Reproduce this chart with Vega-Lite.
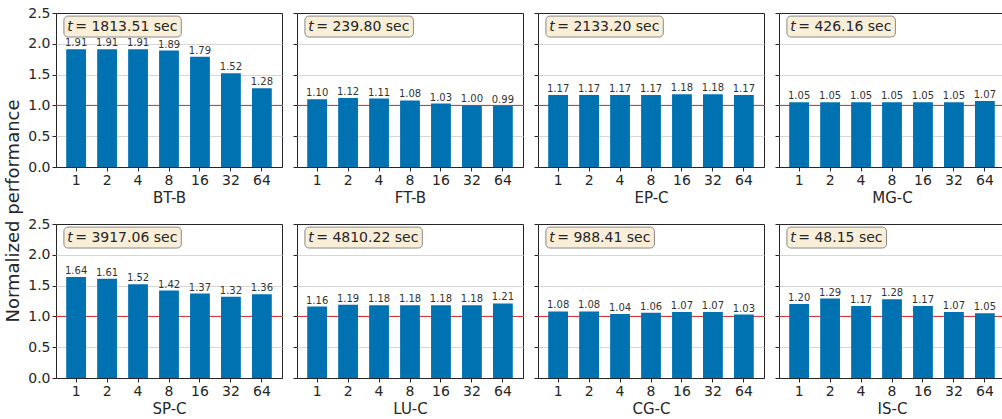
{
"$schema": "https://vega.github.io/schema/vega-lite/v6.json",
"padding": {"left": 5, "top": 5, "right": 1, "bottom": 1},
"background": "white",
"datasets": {
"perf": [
{"b":"BT-B","p":1,"v":1.91},{"b":"BT-B","p":2,"v":1.91},{"b":"BT-B","p":4,"v":1.91},{"b":"BT-B","p":8,"v":1.89},{"b":"BT-B","p":16,"v":1.79},{"b":"BT-B","p":32,"v":1.52},{"b":"BT-B","p":64,"v":1.28},
{"b":"FT-B","p":1,"v":1.10},{"b":"FT-B","p":2,"v":1.12},{"b":"FT-B","p":4,"v":1.11},{"b":"FT-B","p":8,"v":1.08},{"b":"FT-B","p":16,"v":1.03},{"b":"FT-B","p":32,"v":1.00},{"b":"FT-B","p":64,"v":0.99},
{"b":"EP-C","p":1,"v":1.17},{"b":"EP-C","p":2,"v":1.17},{"b":"EP-C","p":4,"v":1.17},{"b":"EP-C","p":8,"v":1.17},{"b":"EP-C","p":16,"v":1.18},{"b":"EP-C","p":32,"v":1.18},{"b":"EP-C","p":64,"v":1.17},
{"b":"MG-C","p":1,"v":1.05},{"b":"MG-C","p":2,"v":1.05},{"b":"MG-C","p":4,"v":1.05},{"b":"MG-C","p":8,"v":1.05},{"b":"MG-C","p":16,"v":1.05},{"b":"MG-C","p":32,"v":1.05},{"b":"MG-C","p":64,"v":1.07},
{"b":"SP-C","p":1,"v":1.64},{"b":"SP-C","p":2,"v":1.61},{"b":"SP-C","p":4,"v":1.52},{"b":"SP-C","p":8,"v":1.42},{"b":"SP-C","p":16,"v":1.37},{"b":"SP-C","p":32,"v":1.32},{"b":"SP-C","p":64,"v":1.36},
{"b":"LU-C","p":1,"v":1.16},{"b":"LU-C","p":2,"v":1.19},{"b":"LU-C","p":4,"v":1.18},{"b":"LU-C","p":8,"v":1.18},{"b":"LU-C","p":16,"v":1.18},{"b":"LU-C","p":32,"v":1.18},{"b":"LU-C","p":64,"v":1.21},
{"b":"CG-C","p":1,"v":1.08},{"b":"CG-C","p":2,"v":1.08},{"b":"CG-C","p":4,"v":1.04},{"b":"CG-C","p":8,"v":1.06},{"b":"CG-C","p":16,"v":1.07},{"b":"CG-C","p":32,"v":1.07},{"b":"CG-C","p":64,"v":1.03},
{"b":"IS-C","p":1,"v":1.20},{"b":"IS-C","p":2,"v":1.29},{"b":"IS-C","p":4,"v":1.17},{"b":"IS-C","p":8,"v":1.28},{"b":"IS-C","p":16,"v":1.17},{"b":"IS-C","p":32,"v":1.07},{"b":"IS-C","p":64,"v":1.05}
],
"times": [
{"b":"BT-B","t":1813.51},{"b":"FT-B","t":239.80},{"b":"EP-C","t":2133.20},{"b":"MG-C","t":426.16},
{"b":"SP-C","t":3917.06},{"b":"LU-C","t":4810.22},{"b":"CG-C","t":988.41},{"b":"IS-C","t":48.15}
]
},
"title": {"text": "Normalized performance", "orient": "left", "anchor": "middle", "fontSize": 18, "fontWeight": "normal", "font": "DejaVu Sans", "color": "#262626", "offset": 4},
"columns": 4,
"spacing": {"row": 10, "column": 9},
"concat": [
{"width":226,"height":154,"resolve":{"scale":{"x":"independent"}},"layer":[
{"data":{"name":"times"},"transform":[{"filter":"datum.b==='BT-B'"}],"mark":{"type":"rule","color":"#d62728","strokeWidth":1},"encoding":{"y":{"datum":1,"type":"quantitative"}}},
{"data":{"name":"perf"},"transform":[{"filter":"datum.b==='BT-B'"}],"encoding":{"x":{"field":"p","type":"ordinal","scale":{"paddingInner":0.36,"paddingOuter":0.33},"axis":{"title":"BT-B"}},"y":{"field":"v","type":"quantitative","scale":{"domain":[0,2.5],"nice":false},"axis":{"title":null,"labels":true,"gridColor":{"condition":{"test":"datum.value<=0||datum.value>=2.5","value":"transparent"},"value":"#d6d6d6"}}}},"layer":[{"mark":{"type":"bar","color":"#0072b2"}},{"mark":{"type":"text","baseline":"bottom","dy":-1,"fontSize":10,"color":"#333333"},"encoding":{"text":{"field":"v","format":".2f"}}}]},
{"data":{"name":"times"},"transform":[{"filter":"datum.b==='BT-B'"},{"calculate":"format(datum.t,'.2f')","as":"s"},{"calculate":"'= '+datum.s+' sec'","as":"label"},{"calculate":"0.035+(64+8.9*(length(datum.s)-1))/226","as":"bx2"}],"layer":[
{"mark":{"type":"rect","fill":"#f9eed8","stroke":"#8a8a8a","strokeWidth":1,"cornerRadius":4},"encoding":{"x":{"field":"bx2","type":"quantitative","scale":{"domain":[0,1],"nice":false,"zero":false},"axis":null},"x2":{"datum":0.035},"y":{"datum":2.45,"type":"quantitative"},"y2":{"datum":2.11}}},
{"mark":{"type":"text","align":"left","baseline":"middle","fontSize":14,"fontStyle":"italic","color":"#262626"},"encoding":{"x":{"datum":0.05,"type":"quantitative"},"y":{"datum":2.28,"type":"quantitative"},"text":{"value":"t"}}},
{"mark":{"type":"text","align":"left","baseline":"middle","fontSize":14,"color":"#262626"},"encoding":{"x":{"datum":0.085,"type":"quantitative"},"y":{"datum":2.28,"type":"quantitative"},"text":{"field":"label"}}}]}]},
{"width":226,"height":154,"resolve":{"scale":{"x":"independent"}},"layer":[
{"data":{"name":"times"},"transform":[{"filter":"datum.b==='FT-B'"}],"mark":{"type":"rule","color":"#d62728","strokeWidth":1},"encoding":{"y":{"datum":1,"type":"quantitative"}}},
{"data":{"name":"perf"},"transform":[{"filter":"datum.b==='FT-B'"}],"encoding":{"x":{"field":"p","type":"ordinal","scale":{"paddingInner":0.36,"paddingOuter":0.33},"axis":{"title":"FT-B"}},"y":{"field":"v","type":"quantitative","scale":{"domain":[0,2.5],"nice":false},"axis":{"title":null,"labels":false,"gridColor":{"condition":{"test":"datum.value<=0||datum.value>=2.5","value":"transparent"},"value":"#d6d6d6"}}}},"layer":[{"mark":{"type":"bar","color":"#0072b2"}},{"mark":{"type":"text","baseline":"bottom","dy":-1,"fontSize":10,"color":"#333333"},"encoding":{"text":{"field":"v","format":".2f"}}}]},
{"data":{"name":"times"},"transform":[{"filter":"datum.b==='FT-B'"},{"calculate":"format(datum.t,'.2f')","as":"s"},{"calculate":"'= '+datum.s+' sec'","as":"label"},{"calculate":"0.035+(64+8.9*(length(datum.s)-1))/226","as":"bx2"}],"layer":[
{"mark":{"type":"rect","fill":"#f9eed8","stroke":"#8a8a8a","strokeWidth":1,"cornerRadius":4},"encoding":{"x":{"field":"bx2","type":"quantitative","scale":{"domain":[0,1],"nice":false,"zero":false},"axis":null},"x2":{"datum":0.035},"y":{"datum":2.45,"type":"quantitative"},"y2":{"datum":2.11}}},
{"mark":{"type":"text","align":"left","baseline":"middle","fontSize":14,"fontStyle":"italic","color":"#262626"},"encoding":{"x":{"datum":0.05,"type":"quantitative"},"y":{"datum":2.28,"type":"quantitative"},"text":{"value":"t"}}},
{"mark":{"type":"text","align":"left","baseline":"middle","fontSize":14,"color":"#262626"},"encoding":{"x":{"datum":0.085,"type":"quantitative"},"y":{"datum":2.28,"type":"quantitative"},"text":{"field":"label"}}}]}]},
{"width":226,"height":154,"resolve":{"scale":{"x":"independent"}},"layer":[
{"data":{"name":"times"},"transform":[{"filter":"datum.b==='EP-C'"}],"mark":{"type":"rule","color":"#d62728","strokeWidth":1},"encoding":{"y":{"datum":1,"type":"quantitative"}}},
{"data":{"name":"perf"},"transform":[{"filter":"datum.b==='EP-C'"}],"encoding":{"x":{"field":"p","type":"ordinal","scale":{"paddingInner":0.36,"paddingOuter":0.33},"axis":{"title":"EP-C"}},"y":{"field":"v","type":"quantitative","scale":{"domain":[0,2.5],"nice":false},"axis":{"title":null,"labels":false,"gridColor":{"condition":{"test":"datum.value<=0||datum.value>=2.5","value":"transparent"},"value":"#d6d6d6"}}}},"layer":[{"mark":{"type":"bar","color":"#0072b2"}},{"mark":{"type":"text","baseline":"bottom","dy":-1,"fontSize":10,"color":"#333333"},"encoding":{"text":{"field":"v","format":".2f"}}}]},
{"data":{"name":"times"},"transform":[{"filter":"datum.b==='EP-C'"},{"calculate":"format(datum.t,'.2f')","as":"s"},{"calculate":"'= '+datum.s+' sec'","as":"label"},{"calculate":"0.035+(64+8.9*(length(datum.s)-1))/226","as":"bx2"}],"layer":[
{"mark":{"type":"rect","fill":"#f9eed8","stroke":"#8a8a8a","strokeWidth":1,"cornerRadius":4},"encoding":{"x":{"field":"bx2","type":"quantitative","scale":{"domain":[0,1],"nice":false,"zero":false},"axis":null},"x2":{"datum":0.035},"y":{"datum":2.45,"type":"quantitative"},"y2":{"datum":2.11}}},
{"mark":{"type":"text","align":"left","baseline":"middle","fontSize":14,"fontStyle":"italic","color":"#262626"},"encoding":{"x":{"datum":0.05,"type":"quantitative"},"y":{"datum":2.28,"type":"quantitative"},"text":{"value":"t"}}},
{"mark":{"type":"text","align":"left","baseline":"middle","fontSize":14,"color":"#262626"},"encoding":{"x":{"datum":0.085,"type":"quantitative"},"y":{"datum":2.28,"type":"quantitative"},"text":{"field":"label"}}}]}]},
{"width":226,"height":154,"resolve":{"scale":{"x":"independent"}},"layer":[
{"data":{"name":"times"},"transform":[{"filter":"datum.b==='MG-C'"}],"mark":{"type":"rule","color":"#d62728","strokeWidth":1},"encoding":{"y":{"datum":1,"type":"quantitative"}}},
{"data":{"name":"perf"},"transform":[{"filter":"datum.b==='MG-C'"}],"encoding":{"x":{"field":"p","type":"ordinal","scale":{"paddingInner":0.36,"paddingOuter":0.33},"axis":{"title":"MG-C"}},"y":{"field":"v","type":"quantitative","scale":{"domain":[0,2.5],"nice":false},"axis":{"title":null,"labels":false,"gridColor":{"condition":{"test":"datum.value<=0||datum.value>=2.5","value":"transparent"},"value":"#d6d6d6"}}}},"layer":[{"mark":{"type":"bar","color":"#0072b2"}},{"mark":{"type":"text","baseline":"bottom","dy":-1,"fontSize":10,"color":"#333333"},"encoding":{"text":{"field":"v","format":".2f"}}}]},
{"data":{"name":"times"},"transform":[{"filter":"datum.b==='MG-C'"},{"calculate":"format(datum.t,'.2f')","as":"s"},{"calculate":"'= '+datum.s+' sec'","as":"label"},{"calculate":"0.035+(64+8.9*(length(datum.s)-1))/226","as":"bx2"}],"layer":[
{"mark":{"type":"rect","fill":"#f9eed8","stroke":"#8a8a8a","strokeWidth":1,"cornerRadius":4},"encoding":{"x":{"field":"bx2","type":"quantitative","scale":{"domain":[0,1],"nice":false,"zero":false},"axis":null},"x2":{"datum":0.035},"y":{"datum":2.45,"type":"quantitative"},"y2":{"datum":2.11}}},
{"mark":{"type":"text","align":"left","baseline":"middle","fontSize":14,"fontStyle":"italic","color":"#262626"},"encoding":{"x":{"datum":0.05,"type":"quantitative"},"y":{"datum":2.28,"type":"quantitative"},"text":{"value":"t"}}},
{"mark":{"type":"text","align":"left","baseline":"middle","fontSize":14,"color":"#262626"},"encoding":{"x":{"datum":0.085,"type":"quantitative"},"y":{"datum":2.28,"type":"quantitative"},"text":{"field":"label"}}}]}]},
{"width":226,"height":154,"resolve":{"scale":{"x":"independent"}},"layer":[
{"data":{"name":"times"},"transform":[{"filter":"datum.b==='SP-C'"}],"mark":{"type":"rule","color":"#d62728","strokeWidth":1},"encoding":{"y":{"datum":1,"type":"quantitative"}}},
{"data":{"name":"perf"},"transform":[{"filter":"datum.b==='SP-C'"}],"encoding":{"x":{"field":"p","type":"ordinal","scale":{"paddingInner":0.36,"paddingOuter":0.33},"axis":{"title":"SP-C"}},"y":{"field":"v","type":"quantitative","scale":{"domain":[0,2.5],"nice":false},"axis":{"title":null,"labels":true,"gridColor":{"condition":{"test":"datum.value<=0||datum.value>=2.5","value":"transparent"},"value":"#d6d6d6"}}}},"layer":[{"mark":{"type":"bar","color":"#0072b2"}},{"mark":{"type":"text","baseline":"bottom","dy":-1,"fontSize":10,"color":"#333333"},"encoding":{"text":{"field":"v","format":".2f"}}}]},
{"data":{"name":"times"},"transform":[{"filter":"datum.b==='SP-C'"},{"calculate":"format(datum.t,'.2f')","as":"s"},{"calculate":"'= '+datum.s+' sec'","as":"label"},{"calculate":"0.035+(64+8.9*(length(datum.s)-1))/226","as":"bx2"}],"layer":[
{"mark":{"type":"rect","fill":"#f9eed8","stroke":"#8a8a8a","strokeWidth":1,"cornerRadius":4},"encoding":{"x":{"field":"bx2","type":"quantitative","scale":{"domain":[0,1],"nice":false,"zero":false},"axis":null},"x2":{"datum":0.035},"y":{"datum":2.45,"type":"quantitative"},"y2":{"datum":2.11}}},
{"mark":{"type":"text","align":"left","baseline":"middle","fontSize":14,"fontStyle":"italic","color":"#262626"},"encoding":{"x":{"datum":0.05,"type":"quantitative"},"y":{"datum":2.28,"type":"quantitative"},"text":{"value":"t"}}},
{"mark":{"type":"text","align":"left","baseline":"middle","fontSize":14,"color":"#262626"},"encoding":{"x":{"datum":0.085,"type":"quantitative"},"y":{"datum":2.28,"type":"quantitative"},"text":{"field":"label"}}}]}]},
{"width":226,"height":154,"resolve":{"scale":{"x":"independent"}},"layer":[
{"data":{"name":"times"},"transform":[{"filter":"datum.b==='LU-C'"}],"mark":{"type":"rule","color":"#d62728","strokeWidth":1},"encoding":{"y":{"datum":1,"type":"quantitative"}}},
{"data":{"name":"perf"},"transform":[{"filter":"datum.b==='LU-C'"}],"encoding":{"x":{"field":"p","type":"ordinal","scale":{"paddingInner":0.36,"paddingOuter":0.33},"axis":{"title":"LU-C"}},"y":{"field":"v","type":"quantitative","scale":{"domain":[0,2.5],"nice":false},"axis":{"title":null,"labels":false,"gridColor":{"condition":{"test":"datum.value<=0||datum.value>=2.5","value":"transparent"},"value":"#d6d6d6"}}}},"layer":[{"mark":{"type":"bar","color":"#0072b2"}},{"mark":{"type":"text","baseline":"bottom","dy":-1,"fontSize":10,"color":"#333333"},"encoding":{"text":{"field":"v","format":".2f"}}}]},
{"data":{"name":"times"},"transform":[{"filter":"datum.b==='LU-C'"},{"calculate":"format(datum.t,'.2f')","as":"s"},{"calculate":"'= '+datum.s+' sec'","as":"label"},{"calculate":"0.035+(64+8.9*(length(datum.s)-1))/226","as":"bx2"}],"layer":[
{"mark":{"type":"rect","fill":"#f9eed8","stroke":"#8a8a8a","strokeWidth":1,"cornerRadius":4},"encoding":{"x":{"field":"bx2","type":"quantitative","scale":{"domain":[0,1],"nice":false,"zero":false},"axis":null},"x2":{"datum":0.035},"y":{"datum":2.45,"type":"quantitative"},"y2":{"datum":2.11}}},
{"mark":{"type":"text","align":"left","baseline":"middle","fontSize":14,"fontStyle":"italic","color":"#262626"},"encoding":{"x":{"datum":0.05,"type":"quantitative"},"y":{"datum":2.28,"type":"quantitative"},"text":{"value":"t"}}},
{"mark":{"type":"text","align":"left","baseline":"middle","fontSize":14,"color":"#262626"},"encoding":{"x":{"datum":0.085,"type":"quantitative"},"y":{"datum":2.28,"type":"quantitative"},"text":{"field":"label"}}}]}]},
{"width":226,"height":154,"resolve":{"scale":{"x":"independent"}},"layer":[
{"data":{"name":"times"},"transform":[{"filter":"datum.b==='CG-C'"}],"mark":{"type":"rule","color":"#d62728","strokeWidth":1},"encoding":{"y":{"datum":1,"type":"quantitative"}}},
{"data":{"name":"perf"},"transform":[{"filter":"datum.b==='CG-C'"}],"encoding":{"x":{"field":"p","type":"ordinal","scale":{"paddingInner":0.36,"paddingOuter":0.33},"axis":{"title":"CG-C"}},"y":{"field":"v","type":"quantitative","scale":{"domain":[0,2.5],"nice":false},"axis":{"title":null,"labels":false,"gridColor":{"condition":{"test":"datum.value<=0||datum.value>=2.5","value":"transparent"},"value":"#d6d6d6"}}}},"layer":[{"mark":{"type":"bar","color":"#0072b2"}},{"mark":{"type":"text","baseline":"bottom","dy":-1,"fontSize":10,"color":"#333333"},"encoding":{"text":{"field":"v","format":".2f"}}}]},
{"data":{"name":"times"},"transform":[{"filter":"datum.b==='CG-C'"},{"calculate":"format(datum.t,'.2f')","as":"s"},{"calculate":"'= '+datum.s+' sec'","as":"label"},{"calculate":"0.035+(64+8.9*(length(datum.s)-1))/226","as":"bx2"}],"layer":[
{"mark":{"type":"rect","fill":"#f9eed8","stroke":"#8a8a8a","strokeWidth":1,"cornerRadius":4},"encoding":{"x":{"field":"bx2","type":"quantitative","scale":{"domain":[0,1],"nice":false,"zero":false},"axis":null},"x2":{"datum":0.035},"y":{"datum":2.45,"type":"quantitative"},"y2":{"datum":2.11}}},
{"mark":{"type":"text","align":"left","baseline":"middle","fontSize":14,"fontStyle":"italic","color":"#262626"},"encoding":{"x":{"datum":0.05,"type":"quantitative"},"y":{"datum":2.28,"type":"quantitative"},"text":{"value":"t"}}},
{"mark":{"type":"text","align":"left","baseline":"middle","fontSize":14,"color":"#262626"},"encoding":{"x":{"datum":0.085,"type":"quantitative"},"y":{"datum":2.28,"type":"quantitative"},"text":{"field":"label"}}}]}]},
{"width":226,"height":154,"resolve":{"scale":{"x":"independent"}},"layer":[
{"data":{"name":"times"},"transform":[{"filter":"datum.b==='IS-C'"}],"mark":{"type":"rule","color":"#d62728","strokeWidth":1},"encoding":{"y":{"datum":1,"type":"quantitative"}}},
{"data":{"name":"perf"},"transform":[{"filter":"datum.b==='IS-C'"}],"encoding":{"x":{"field":"p","type":"ordinal","scale":{"paddingInner":0.36,"paddingOuter":0.33},"axis":{"title":"IS-C"}},"y":{"field":"v","type":"quantitative","scale":{"domain":[0,2.5],"nice":false},"axis":{"title":null,"labels":false,"gridColor":{"condition":{"test":"datum.value<=0||datum.value>=2.5","value":"transparent"},"value":"#d6d6d6"}}}},"layer":[{"mark":{"type":"bar","color":"#0072b2"}},{"mark":{"type":"text","baseline":"bottom","dy":-1,"fontSize":10,"color":"#333333"},"encoding":{"text":{"field":"v","format":".2f"}}}]},
{"data":{"name":"times"},"transform":[{"filter":"datum.b==='IS-C'"},{"calculate":"format(datum.t,'.2f')","as":"s"},{"calculate":"'= '+datum.s+' sec'","as":"label"},{"calculate":"0.035+(64+8.9*(length(datum.s)-1))/226","as":"bx2"}],"layer":[
{"mark":{"type":"rect","fill":"#f9eed8","stroke":"#8a8a8a","strokeWidth":1,"cornerRadius":4},"encoding":{"x":{"field":"bx2","type":"quantitative","scale":{"domain":[0,1],"nice":false,"zero":false},"axis":null},"x2":{"datum":0.035},"y":{"datum":2.45,"type":"quantitative"},"y2":{"datum":2.11}}},
{"mark":{"type":"text","align":"left","baseline":"middle","fontSize":14,"fontStyle":"italic","color":"#262626"},"encoding":{"x":{"datum":0.05,"type":"quantitative"},"y":{"datum":2.28,"type":"quantitative"},"text":{"value":"t"}}},
{"mark":{"type":"text","align":"left","baseline":"middle","fontSize":14,"color":"#262626"},"encoding":{"x":{"datum":0.085,"type":"quantitative"},"y":{"datum":2.28,"type":"quantitative"},"text":{"field":"label"}}}]}]}
],
"config": {
"font": "DejaVu Sans",
"view": {"stroke": "#262626", "strokeWidth": 1},
"axis": {"labelFont": "DejaVu Sans", "labelFontSize": 14, "labelColor": "#262626", "titleFont": "DejaVu Sans", "titleFontSize": 15, "titleFontWeight": "normal", "titleColor": "#262626", "tickColor": "#262626", "tickSize": 4, "domain": false},
"axisX": {"grid": false, "labelAngle": 0, "labelPadding": 2, "titlePadding": 3, "domain": true, "domainColor": "#262626", "zindex": 1},
"axisY": {"grid": true, "values": [0, 0.5, 1, 1.5, 2, 2.5], "labelPadding": 2, "format": ".1f"}
}
}
